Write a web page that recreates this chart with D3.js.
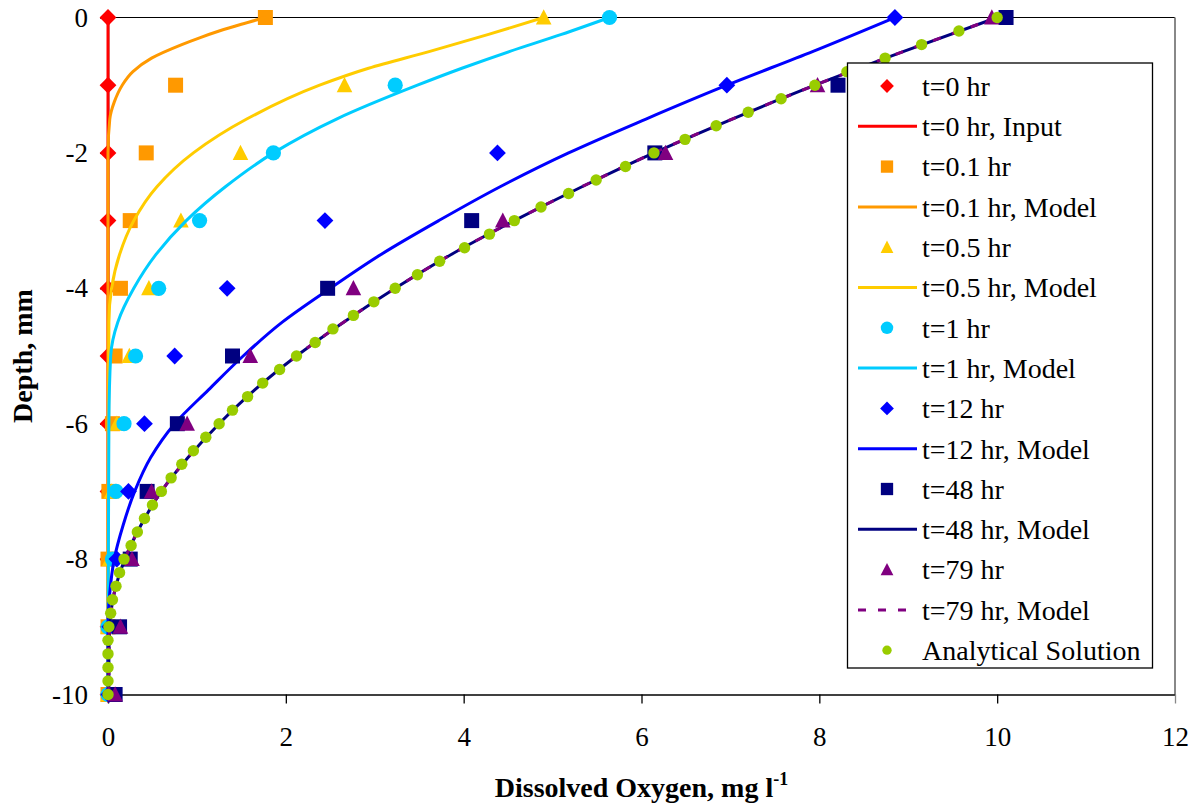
<!DOCTYPE html>
<html>
<head>
<meta charset="utf-8">
<script src="https://cdn.jsdelivr.net/npm/d3@7"></script>
<style>
  body { margin: 0; background: #fff; }
  svg { display: block; }
</style>
</head>
<body>
<div id="chart"></div>
<script>
// observed profiles, one value per mm of depth
const obsDepth = [0, -1, -2, -3, -4, -5, -6, -7, -8, -9, -10];
const obsT0 = [0, 0, 0, 0, 0, 0, 0, 0, 0, 0, 0];
const obsT01 = [1.77, 0.76, 0.43, 0.25, 0.14, 0.08, 0.05, 0.01, 0, 0, 0];
const obsT05 = [4.90, 2.66, 1.49, 0.82, 0.46, 0.24, 0.10, 0.04, 0.02, 0, 0];
const obsT1 = [5.64, 3.23, 1.86, 1.03, 0.57, 0.31, 0.18, 0.09, 0.05, 0, 0];
const obsT12 = [8.85, 6.96, 4.38, 2.44, 1.34, 0.75, 0.41, 0.23, 0.10, 0.02, 0.01];
const obsT48 = [10.10, 8.21, 6.15, 4.09, 2.47, 1.40, 0.78, 0.44, 0.25, 0.13, 0.08];
const obsT79 = [9.94, 7.98, 6.27, 4.44, 2.76, 1.60, 0.89, 0.49, 0.27, 0.14, 0.08];

// model curves
const inputT0Depth = [0, -10];
const inputT0 = [0, 0];
const modelT01Depth = [0, -0.1, -0.2, -0.3, -0.4, -0.6, -0.8, -1.0, -1.25, -1.5, -2, -10];
const modelT01 = [1.77, 1.50, 1.25, 1.03, 0.83, 0.49, 0.28, 0.16, 0.07, 0.02, 0, 0];
const modelT05Depth = [0, -0.25, -0.5, -0.75, -1, -1.5, -2, -2.5, -3, -3.5, -4, -4.5, -10];
const modelT05 = [4.90, 4.28, 3.62, 2.93, 2.38, 1.56, 0.96, 0.55, 0.29, 0.13, 0.04, 0.01, 0];
const modelT1Depth = [0, -0.25, -0.5, -0.75, -1, -1.5, -2, -2.5, -3, -3.5, -4, -4.5, -5, -6, -10];
const modelT1 = [5.64, 5.10, 4.52, 3.98, 3.48, 2.57, 1.86, 1.32, 0.88, 0.54, 0.29, 0.11, 0.03, 0.01, 0];
const modelT12Depth = [0, -0.5, -1, -1.5, -2, -2.5, -3, -3.5, -4, -4.5, -5, -5.5, -6, -6.5, -7, -7.5, -8, -8.5, -9, -10];
const modelT12 = [8.85, 7.93, 6.96, 6.05, 5.18, 4.41, 3.72, 3.07, 2.50, 1.96, 1.52, 1.13, 0.75, 0.48, 0.30, 0.17, 0.07, 0.02, 0, 0];
const modelT48Depth = [0, -0.5, -1, -1.5, -2, -2.5, -3, -3.5, -4, -4.5, -5, -5.5, -6, -6.5, -7, -7.5, -8, -8.5, -9, -9.5, -10];
const modelT48 = [10.0, 8.95, 7.95, 7.02, 6.14, 5.33, 4.57, 3.86, 3.23, 2.65, 2.12, 1.65, 1.25, 0.90, 0.60, 0.37, 0.19, 0.07, 0.02, 0.01, 0.01];
const modelT79Depth = [0, -0.5, -1, -1.5, -2, -2.5, -3, -3.5, -4, -4.5, -5, -5.5, -6, -6.5, -7, -7.5, -8, -8.5, -9, -9.5, -10];
const modelT79 = [10.0, 8.95, 7.95, 7.02, 6.14, 5.33, 4.57, 3.86, 3.23, 2.65, 2.12, 1.65, 1.25, 0.90, 0.60, 0.37, 0.19, 0.07, 0.02, 0.01, 0.01];

// analytical solution, every 0.2 mm
const analyticDepth = [0, -0.2, -0.4, -0.6, -0.8, -1, -1.2, -1.4, -1.6, -1.8, -2, -2.2, -2.4, -2.6, -2.8, -3,
  -3.2, -3.4, -3.6, -3.8, -4, -4.2, -4.4, -4.6, -4.8, -5, -5.2, -5.4, -5.6, -5.8, -6, -6.2, -6.4, -6.6, -6.8,
  -7, -7.2, -7.4, -7.6, -7.8, -8, -8.2, -8.4, -8.6, -8.8, -9, -9.2, -9.4, -9.6, -9.8, -10];
const analytic = [10.0, 9.57, 9.15, 8.74, 8.31, 7.95, 7.57, 7.20, 6.84, 6.49, 6.14, 5.82, 5.49, 5.18, 4.87, 4.57,
  4.29, 4.01, 3.73, 3.48, 3.23, 2.99, 2.76, 2.53, 2.33, 2.12, 1.93, 1.74, 1.57, 1.40, 1.25, 1.10, 0.96, 0.83, 0.71,
  0.60, 0.50, 0.41, 0.33, 0.26, 0.18, 0.13, 0.09, 0.05, 0.03, 0.01, 0, 0, 0, 0, 0];

const xTicks = [0, 2, 4, 6, 8, 10, 12];
const yTicks = [-10, -8, -6, -4, -2, 0];

const series = [
  { label: "t=0 hr", kind: "marker", shape: "diamond", color: "#FF0000", depth: obsDepth, values: obsT0 },
  { label: "t=0 hr, Input", kind: "line", color: "#FF0000", depth: inputT0Depth, values: inputT0 },
  { label: "t=0.1 hr", kind: "marker", shape: "square", color: "#FF9900", depth: obsDepth, values: obsT01 },
  { label: "t=0.1 hr, Model", kind: "line", color: "#FF9900", depth: modelT01Depth, values: modelT01 },
  { label: "t=0.5 hr", kind: "marker", shape: "triangle", color: "#FFCC00", depth: obsDepth, values: obsT05 },
  { label: "t=0.5 hr, Model", kind: "line", color: "#FFCC00", depth: modelT05Depth, values: modelT05 },
  { label: "t=1 hr", kind: "marker", shape: "circle", color: "#00CCFF", depth: obsDepth, values: obsT1 },
  { label: "t=1 hr, Model", kind: "line", color: "#00CCFF", depth: modelT1Depth, values: modelT1 },
  { label: "t=12 hr", kind: "marker", shape: "diamond", color: "#0000FF", depth: obsDepth, values: obsT12 },
  { label: "t=12 hr, Model", kind: "line", color: "#0000FF", depth: modelT12Depth, values: modelT12 },
  { label: "t=48 hr", kind: "marker", shape: "square", color: "#000080", depth: obsDepth, values: obsT48 },
  { label: "t=48 hr, Model", kind: "line", color: "#000080", depth: modelT48Depth, values: modelT48 },
  { label: "t=79 hr", kind: "marker", shape: "triangle", color: "#800080", depth: obsDepth, values: obsT79 },
  { label: "t=79 hr, Model", kind: "line", color: "#800080", dash: "8,12", depth: modelT79Depth, values: modelT79 },
  { label: "Analytical Solution", kind: "marker", shape: "dot", color: "#99CC00", depth: analyticDepth, values: analytic }
];

const FONT = "Liberation Serif";
const width = 1194, height = 805;
const x = d3.scaleLinear().domain([0, 12]).range([108, 1175]);
const y = d3.scaleLinear().domain([-10, 0]).range([694.5, 17.5]);

const svg = d3.select("#chart").append("svg")
  .attr("width", width).attr("height", height)
  .attr("font-family", FONT);

function shapePath(shape, s) {
  // s = scale factor, 1 for plot markers
  if (shape === "diamond") {
    const r = 8.4 * s;
    return `M0,${-r}L${r},0L0,${r}L${-r},0Z`;
  }
  if (shape === "square") {
    const r = 7.5 * s;
    return `M${-r},${-r}H${r}V${r}H${-r}Z`;
  }
  if (shape === "triangle") {
    const w = 7.8 * s;
    return `M0,${-8.2 * s}L${w},${7 * s}L${-w},${7 * s}Z`;
  }
  const r = (shape === "dot" ? 5.7 : 7.6) * s;
  return d3.arc()({ innerRadius: 0, outerRadius: r, startAngle: 0, endAngle: 2 * Math.PI });
}

// frame: top line and grey right edge
svg.append("line")
  .attr("x1", x(0)).attr("x2", x(12)).attr("y1", y(0)).attr("y2", y(0))
  .attr("stroke", "#000").attr("stroke-width", 1.2);
svg.append("line")
  .attr("x1", x(12)).attr("x2", x(12)).attr("y1", y(0)).attr("y2", y(-10))
  .attr("stroke", "#888").attr("stroke-width", 2);

const xAxis = svg.append("g")
  .attr("transform", `translate(0,${y(-10)})`)
  .call(d3.axisBottom(x).tickValues(xTicks).tickSize(9).tickSizeOuter(0).tickPadding(23).tickFormat(d3.format("d")));
const yAxis = svg.append("g")
  .attr("transform", `translate(${x(0)},0)`)
  .call(d3.axisLeft(y).tickValues(yTicks).tickSize(8).tickSizeOuter(0).tickPadding(12).tickFormat(d => d === 0 ? "0" : "-" + Math.abs(d)));
[xAxis, yAxis].forEach(a => {
  a.attr("font-family", FONT).attr("font-size", 27);
  a.select(".domain").attr("stroke", "#000").attr("stroke-width", 1.5);
  a.selectAll(".tick line").attr("stroke", "#000").attr("stroke-width", 1.3);
  a.selectAll(".tick text")
    .attr("font-family", FONT)
    .attr("fill", "#000");
});
xAxis.select(".tick:last-of-type line").attr("stroke", "#888");

// series, in legend order
const line = d3.line().x(d => x(d[1])).y(d => y(d[0])).curve(d3.curveMonotoneY);
series.forEach(s => {
  const pts = s.depth.map((d, i) => [d, s.values[i]]);
  if (s.kind === "line") {
    svg.append("path")
      .datum(pts)
      .attr("d", line)
      .attr("fill", "none")
      .attr("stroke", s.color)
      .attr("stroke-width", 3)
      .attr("stroke-dasharray", s.dash || null);
  } else {
    svg.append("g").selectAll("path")
      .data(pts)
      .join("path")
      .attr("transform", d => `translate(${x(d[1])},${y(d[0])})`)
      .attr("d", shapePath(s.shape, 1))
      .attr("fill", s.color);
  }
});

// legend
const legend = svg.append("g");
legend.append("rect")
  .attr("x", 847.5).attr("y", 63).attr("width", 305).attr("height", 605)
  .attr("fill", "#fff").attr("stroke", "#000").attr("stroke-width", 1.3);
series.forEach((s, i) => {
  const cy = 86 + i * 40.3;
  const row = legend.append("g").attr("transform", `translate(0,${cy})`);
  if (s.kind === "line") {
    row.append("line")
      .attr("x1", 858).attr("x2", 917).attr("y1", 0).attr("y2", 0)
      .attr("stroke", s.color).attr("stroke-width", 3)
      .attr("stroke-dasharray", s.dash || null);
  } else {
    row.append("path")
      .attr("transform", "translate(887,0)")
      .attr("d", shapePath(s.shape, 0.82))
      .attr("fill", s.color);
  }
  row.append("text")
    .attr("x", 922).attr("dy", "0.35em")
    .attr("font-size", 28)
    .text(s.label);
});

// axis titles
const xTitle = svg.append("text")
  .attr("x", (x(0) + x(12)) / 2).attr("y", 797)
  .attr("text-anchor", "middle")
  .attr("font-weight", "bold").attr("font-size", 28);
xTitle.append("tspan").text("Dissolved Oxygen, mg l");
xTitle.append("tspan").attr("font-size", 18).attr("dy", -12).text("-1");

svg.append("text")
  .attr("transform", `translate(32,${(y(0) + y(-10)) / 2}) rotate(-90)`)
  .attr("text-anchor", "middle")
  .attr("font-weight", "bold").attr("font-size", 28)
  .text("Depth, mm");
</script>
</body>
</html>
